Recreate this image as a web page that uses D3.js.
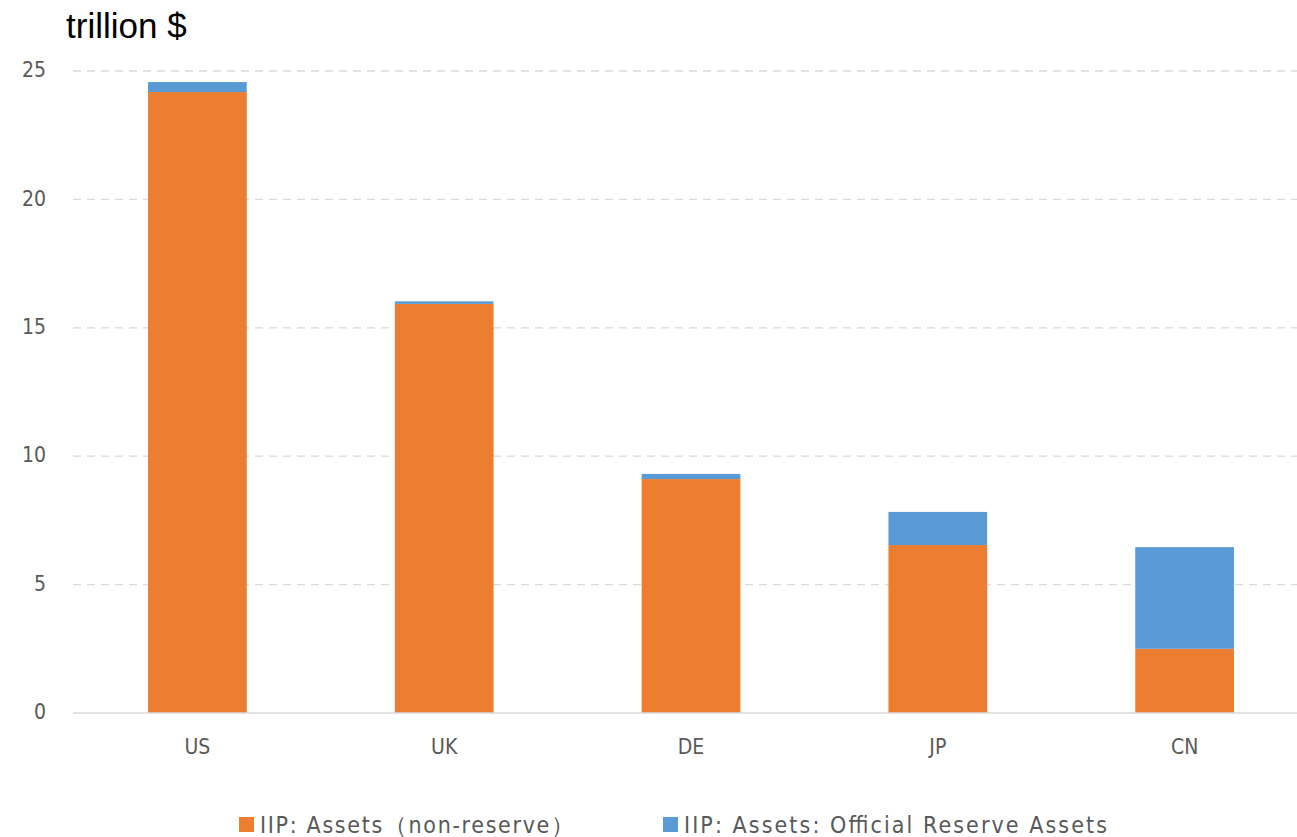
<!DOCTYPE html>
<html><head><meta charset="utf-8">
<script src="https://cdn.jsdelivr.net/npm/d3@7"></script>
<style>body{margin:0;background:#fff;} svg{display:block;}</style>
</head><body>
<svg id="c" width="1297" height="837"></svg>
<script>
const categories = ["US","UK","DE","JP","CN"];
const nonReserve = [24.18, 15.93, 9.11, 6.54, 2.50];
const reserve = [0.39, 0.10, 0.20, 1.29, 3.96];
const yTicks = [0,5,10,15,20,25];
const seriesNames = ["IIP: Assets（non-reserve）","IIP: Assets: Official Reserve Assets"];
const colors = ["#ED7D31","#5B9BD5"];

const svg = d3.select("#c");
const x = d3.scaleBand().domain(categories).range([74,1308]).paddingInner(0.6).paddingOuter(0.3);
const y = d3.scaleLinear().domain([0,25]).range([713,71]);

const data = categories.map((c,i)=>({cat:c, nonReserve:nonReserve[i], reserve:reserve[i]}));
const stack = d3.stack().keys(["nonReserve","reserve"])(data);

// grid
svg.append("g").selectAll("line").data(yTicks.filter(d=>d>0)).join("line")
  .attr("x1",73).attr("x2",1297).attr("y1",d=>y(d)).attr("y2",d=>y(d))
  .attr("stroke","#d9d9d9").attr("stroke-width",1.3).attr("stroke-dasharray","8,6");

// bars
svg.append("g").selectAll("g").data(stack).join("g").attr("fill",(d,i)=>colors[i])
  .selectAll("rect").data(d=>d).join("rect")
  .attr("x",d=>x(d.data.cat)).attr("width",x.bandwidth())
  .attr("y",d=>y(d[1])).attr("height",d=>y(d[0])-y(d[1]));

// baseline
svg.append("line").attr("x1",73).attr("x2",1297).attr("y1",y(0)).attr("y2",y(0))
  .attr("stroke","#d9d9d9").attr("stroke-width",1.5);

const lblFont = "'DejaVu Sans Condensed','DejaVu Sans',sans-serif";
// y axis labels
const yAxis = d3.axisLeft(y).tickValues(yTicks).tickSize(0).tickPadding(0);
const ga = svg.append("g").attr("transform","translate(46,0)").call(yAxis);
ga.select(".domain").remove();
ga.selectAll("text").attr("font-family",lblFont).attr("dy","0.27em")
  .attr("font-size",21).attr("fill","#595959");

// x axis labels
const xAxis = d3.axisBottom(x).tickSize(0).tickPadding(0);
const gx = svg.append("g").attr("transform","translate(0,754)").call(xAxis);
gx.select(".domain").remove();
gx.selectAll("text").attr("font-family",lblFont).attr("y",0).attr("dy",0)
  .attr("font-size",21).attr("fill","#595959");

// title
svg.append("text").attr("x",66).attr("y",38).text("trillion $")
  .attr("font-family","'Liberation Sans',Arial,sans-serif").attr("font-size",35).attr("fill","#000");

// legend
const legX = [239, 663];
const legW = [314, 423];
const lg = svg.append("g").selectAll("g").data(seriesNames).join("g")
  .attr("transform",(d,i)=>`translate(${legX[i]},0)`);
lg.append("rect").attr("x",0).attr("y",817).attr("width",15).attr("height",15).attr("fill",(d,i)=>colors[i]);
lg.append("text").attr("x",21).attr("y",833).text(d=>d)
  .attr("textLength",(d,i)=>legW[i]).attr("lengthAdjust","spacing")
  .attr("font-family",lblFont).attr("font-size",23).attr("fill","#595959");
</script>
</body></html>
